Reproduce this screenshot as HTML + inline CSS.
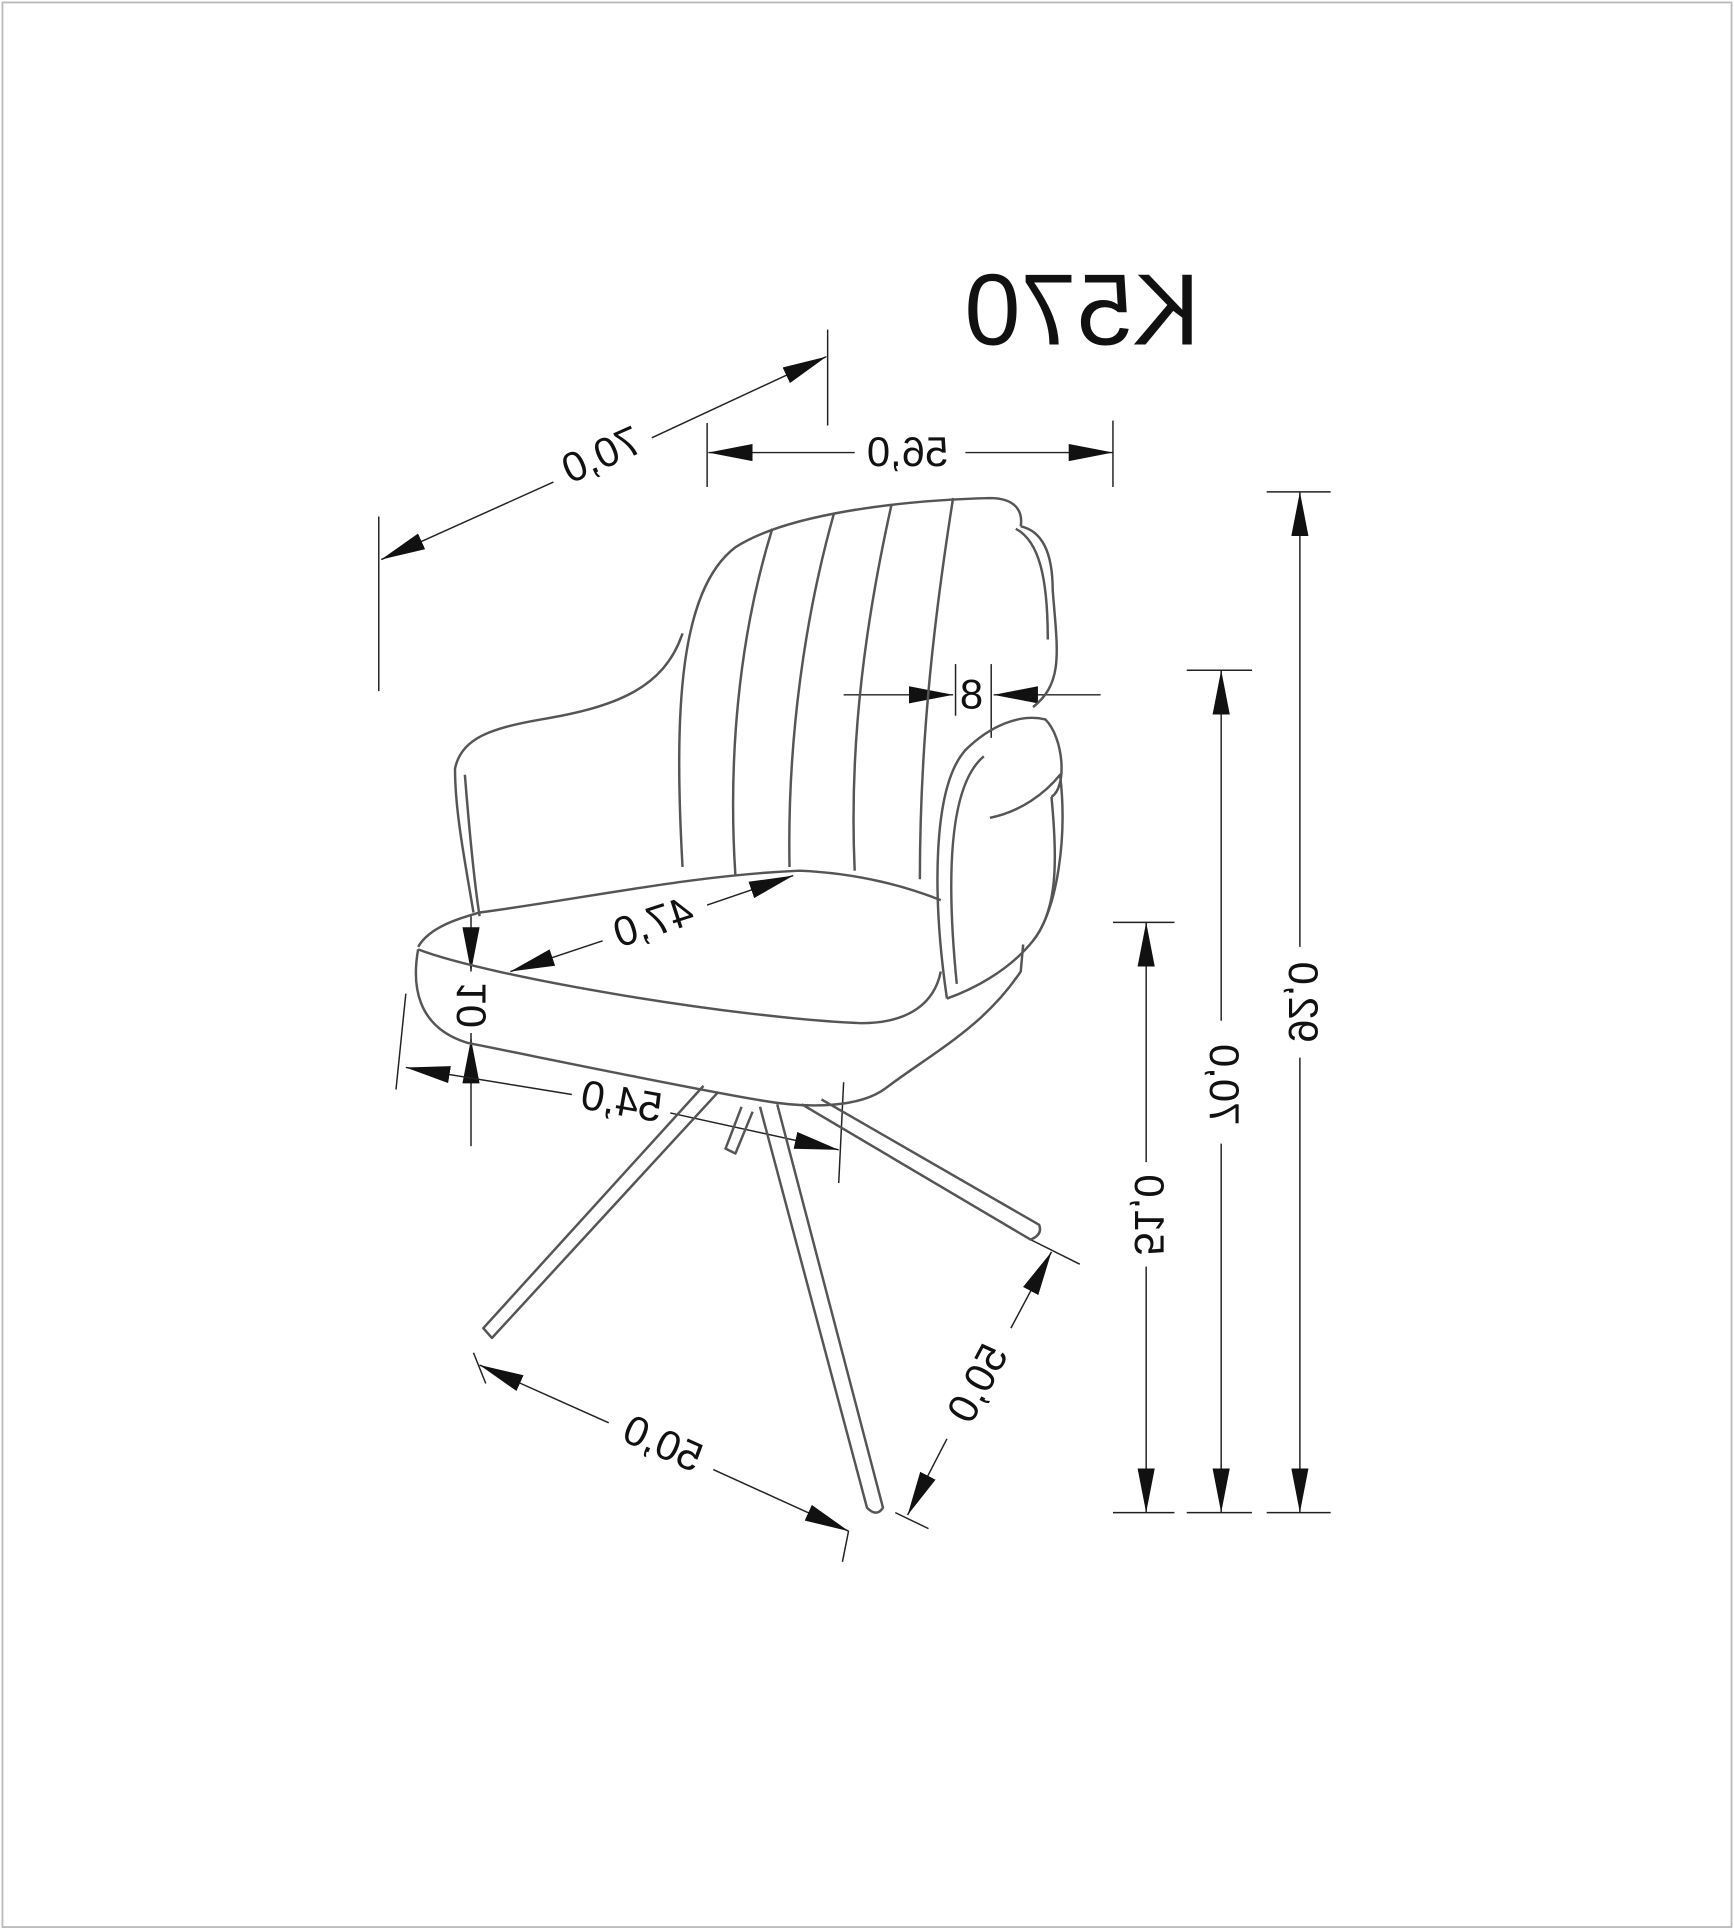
<!DOCTYPE html>
<html><head><meta charset="utf-8"><style>
html,body{margin:0;padding:0;background:#fff}
svg{display:block}
text{font-family:"Liberation Sans",sans-serif;fill:#111}
</style></head><body>
<svg width="1734" height="1930" viewBox="0 0 1410 1569.4" preserveAspectRatio="none" xmlns="http://www.w3.org/2000/svg">
<defs>
<marker id="A" viewBox="0 0 36 14" refX="36" refY="7" markerWidth="36" markerHeight="14" markerUnits="userSpaceOnUse" orient="auto-start-reverse"><path d="M0,0 L36,7 L0,14 z" fill="#111"/></marker>
</defs>
<rect x="2" y="2" width="1406" height="1565" fill="none" stroke="#bbb" stroke-width="1.5"/>
<text transform="translate(880,280) scale(-1,1)" font-size="82" text-anchor="middle">K570</text>

<g stroke="#222" stroke-width="1.2" fill="none">
<line x1="308" y1="420" x2="308" y2="562"/>
<line x1="673" y1="268" x2="673" y2="346"/>
<line x1="575" y1="344" x2="575" y2="396"/>
<line x1="905" y1="342" x2="905" y2="396"/>
<line x1="1030" y1="400" x2="1082" y2="400"/>
<line x1="1030" y1="1230" x2="1082" y2="1230"/>
<line x1="965" y1="545" x2="1018" y2="545"/>
<line x1="965" y1="1230" x2="1018" y2="1230"/>
<line x1="905" y1="750" x2="955" y2="750"/>
<line x1="905" y1="1230" x2="955" y2="1230"/>
<line x1="777" y1="540" x2="777" y2="582"/>
<line x1="806" y1="540" x2="806" y2="600"/>
<line x1="330" y1="808" x2="322" y2="886"/>
<line x1="686" y1="880" x2="682" y2="962"/>
<line x1="383" y1="840" x2="383" y2="932"/>
<line x1="385" y1="1100" x2="395" y2="1125"/>
<line x1="690" y1="1245" x2="685" y2="1270"/>
<line x1="838" y1="1008" x2="878" y2="1028"/>
<line x1="728" y1="1230" x2="755" y2="1243"/>
<path d="M310,455 L450,392 M530,356 L672,290" marker-start="url(#A)" marker-end="url(#A)"/>
<line x1="576" y1="368" x2="695" y2="368" marker-start="url(#A)"/>
<line x1="785" y1="368" x2="905" y2="368" marker-end="url(#A)"/>
<line x1="1057" y1="400" x2="1057" y2="770" marker-start="url(#A)"/>
<line x1="1057" y1="860" x2="1057" y2="1230" marker-end="url(#A)"/>
<line x1="993" y1="545" x2="993" y2="830" marker-start="url(#A)"/>
<line x1="993" y1="930" x2="993" y2="1230" marker-end="url(#A)"/>
<line x1="932" y1="750" x2="932" y2="945" marker-start="url(#A)"/>
<line x1="932" y1="1030" x2="932" y2="1230" marker-end="url(#A)"/>
<line x1="686" y1="565" x2="775" y2="565" marker-end="url(#A)"/>
<line x1="895" y1="565" x2="808" y2="565" marker-end="url(#A)"/>
<line x1="415" y1="790" x2="490" y2="765" marker-start="url(#A)"/>
<line x1="575" y1="736" x2="645" y2="712" marker-end="url(#A)"/>
<line x1="383" y1="745" x2="383" y2="790" marker-end="url(#A)"/>
<line x1="383" y1="880" x2="383" y2="845" marker-end="url(#A)"/>
<line x1="330" y1="868" x2="465" y2="890" marker-start="url(#A)"/>
<line x1="545" y1="905" x2="682" y2="935" marker-end="url(#A)"/>
<line x1="390" y1="1110" x2="495" y2="1157" marker-start="url(#A)"/>
<line x1="580" y1="1195" x2="690" y2="1245" marker-end="url(#A)"/>
<line x1="855" y1="1018" x2="822" y2="1080" marker-start="url(#A)"/>
<line x1="770" y1="1170" x2="738" y2="1232" marker-end="url(#A)"/>
</g>

<g font-size="34">
<text transform="translate(490,372) rotate(-24) scale(-1,1)" text-anchor="middle" dominant-baseline="middle">70,0</text>
<text transform="translate(738,370) scale(-1,1)" text-anchor="middle" dominant-baseline="middle">56,0</text>
<text transform="translate(1057,815) rotate(90) scale(-1,1)" text-anchor="middle" dominant-baseline="middle">92,0</text>
<text transform="translate(993,882) rotate(90) scale(-1,1)" text-anchor="middle" dominant-baseline="middle">70,0</text>
<text transform="translate(932,988) rotate(90) scale(-1,1)" text-anchor="middle" dominant-baseline="middle">51,0</text>
<text x="790" y="567" text-anchor="middle" dominant-baseline="middle">8</text>
<text transform="translate(532,752) rotate(-18) scale(-1,1)" text-anchor="middle" dominant-baseline="middle">47,0</text>
<text transform="translate(386,817) rotate(90) scale(1,-1)" text-anchor="middle" dominant-baseline="middle">10</text>
<text transform="translate(505,898) rotate(10) scale(-1,1)" text-anchor="middle" dominant-baseline="middle">54,0</text>
<text transform="translate(538,1176) rotate(24) scale(-1,1)" text-anchor="middle" dominant-baseline="middle">50,0</text>
<text transform="translate(797,1126) rotate(-62) scale(-1,1)" text-anchor="middle" dominant-baseline="middle">50,0</text>
</g>

<g stroke="#555" stroke-width="2" fill="none" stroke-linejoin="round">
<path d="M555,705 C548,580 552,480 598,445 C640,418 730,407 805,405 C825,405 832,415 830,428"/>
<path d="M830,428 C848,432 856,450 856,480 C860,530 865,555 840,575"/>
<path d="M826,430 C845,440 852,470 852,520"/>
<path d="M628,430 C600,520 592,620 598,712"/>
<path d="M678,418 C655,500 640,600 642,705"/>
<path d="M725,410 C705,500 690,600 695,708"/>
<path d="M775,405 C760,500 748,600 748,715"/>
<path d="M555,515 C540,560 500,575 440,585 C400,592 375,600 370,625 C370,660 378,700 385,742"/>
<path d="M378,630 C382,680 386,720 390,745"/>
<path d="M770,812 C758,730 758,640 785,610 C805,590 830,580 850,585 C865,600 868,640 855,648"/>
<path d="M778,800 C770,720 770,640 800,615"/>
<path d="M805,665 C830,660 850,645 862,630 C868,680 860,740 840,765 C820,790 790,805 770,812"/>
<path d="M855,648 C860,700 860,740 840,765"/>
<path d="M340,770 C350,752 380,745 390,742 C480,730 560,712 650,708 C700,710 740,722 765,732"/>
<path d="M340,772 C400,795 600,828 700,832 C740,832 760,815 765,790"/>
<path d="M340,772 C335,800 338,835 380,848 C450,862 560,885 620,895 C660,902 700,900 720,885 C760,855 800,835 830,790 L832,768"/>
<path d="M572,883 L393,1080 L400,1088 L584,888"/>
<path d="M618,900 L705,1226 Q713,1234 718,1226 L632,898"/>
<path d="M652,898 L838,1008 Q848,1004 845,996 L668,894"/>
<path d="M603,900 L590,934 L598,938 L612,904"/>
</g>
</svg>
</body></html>
